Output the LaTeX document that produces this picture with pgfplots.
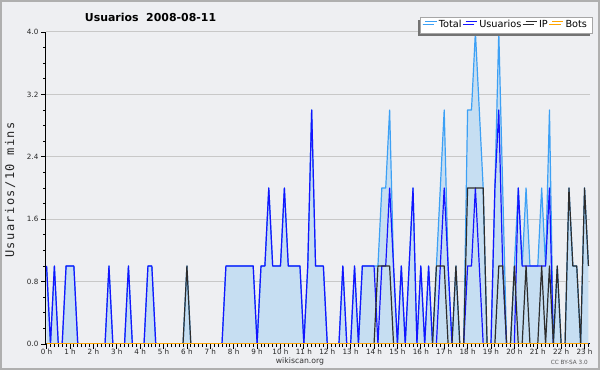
\documentclass[border=0pt]{standalone}
\usepackage{pgfplots}
\pgfplotsset{compat=1.18}
\usepackage{pgfplotstable}
\usepackage{fontspec}
\setmainfont{DejaVu Sans}
\newfontfamily\monolab[LetterSpace=12]{DejaVu Sans Mono}
\usetikzlibrary{shadows}

\definecolor{bg}{RGB}{238,239,242}
\definecolor{fillb}{RGB}{198,222,242}
\definecolor{totc}{RGB}{60,160,245}
\definecolor{usc}{RGB}{20,20,255}
\definecolor{ipc}{RGB}{45,45,45}
\definecolor{botc}{RGB}{255,165,0}
\definecolor{gridc}{RGB}{200,200,200}
\definecolor{framec}{RGB}{175,175,175}

\pgfplotstableread{
i U IP T B
0 1 0 1 0
1 0 0 0 0
2 1 0 1 0
3 0 0 0 0
4 0 0 0 0
5 1 0 1 0
6 1 0 1 0
7 1 0 1 0
8 0 0 0 0
9 0 0 0 0
10 0 0 0 0
11 0 0 0 0
12 0 0 0 0
13 0 0 0 0
14 0 0 0 0
15 0 0 0 0
16 1 0 1 0
17 0 0 0 0
18 0 0 0 0
19 0 0 0 0
20 0 0 0 0
21 1 0 1 0
22 0 0 0 0
23 0 0 0 0
24 0 0 0 0
25 0 0 0 0
26 1 0 1 0
27 1 0 1 0
28 0 0 0 0
29 0 0 0 0
30 0 0 0 0
31 0 0 0 0
32 0 0 0 0
33 0 0 0 0
34 0 0 0 0
35 0 0 0 0
36 0 1 1 0
37 0 0 0 0
38 0 0 0 0
39 0 0 0 0
40 0 0 0 0
41 0 0 0 0
42 0 0 0 0
43 0 0 0 0
44 0 0 0 0
45 0 0 0 0
46 1 0 1 0
47 1 0 1 0
48 1 0 1 0
49 1 0 1 0
50 1 0 1 0
51 1 0 1 0
52 1 0 1 0
53 1 0 1 0
54 0 0 0 0
55 1 0 1 0
56 1 0 1 0
57 2 0 2 0
58 1 0 1 0
59 1 0 1 0
60 1 0 1 0
61 2 0 2 0
62 1 0 1 0
63 1 0 1 0
64 1 0 1 0
65 1 0 1 0
66 0 0 0 0
67 1 0 1 0
68 3 0 3 0
69 1 0 1 0
70 1 0 1 0
71 1 0 1 0
72 0 0 0 0
73 0 0 0 0
74 0 0 0 0
75 0 0 0 0
76 1 0 1 0
77 0 0 0 0
78 0 0 0 0
79 1 0 1 0
80 0 0 0 0
81 1 0 1 0
82 1 0 1 0
83 1 0 1 0
84 1 0 1 0
85 0 1 1 0
86 1 1 2 0
87 1 1 2 0
88 2 1 3 0
89 1 0 1 0
90 0 0 0 0
91 1 0 1 0
92 0 0 0 0
93 1 0 1 0
94 2 0 2 0
95 0 0 0 0
96 1 0 1 0
97 0 0 0 0
98 1 0 1 0
99 0 0 0 0
100 0 1 1 0
101 1 1 2 0
102 2 1 3 0
103 1 0 1 0
104 0 0 0 0
105 0 1 1 0
106 0 0 0 0
107 0 0 0 0
108 1 2 3 0
109 1 2 3 0
110 2 2 4 0
111 1 2 3 0
112 0 2 2 0
113 0 0 0 0
114 0 0 0 0
115 2 0 2 0
116 3 1 4 0
117 1 1 2 0
118 0 0 0 0
119 0 0 0 0
120 0 1 1 0
121 2 0 2 0
122 1 0 1 0
123 1 1 2 0
124 1 0 1 0
125 1 0 1 0
126 1 0 1 0
127 1 1 2 0
128 1 0 1 0
129 2 1 3 0
130 0 0 0 0
131 0 1 1 0
132 0 0 0 0
133 0 0 0 0
134 0 2 2 0
135 0 1 1 0
136 0 1 1 0
137 0 0 0 0
138 0 2 2 0
139 0 1 1 0
}\data

\begin{document}
\begin{tikzpicture}
\fill[bg] (0,0) rectangle (450pt,277.5pt);
\draw[framec, line width=1.2pt] (0.6pt,0.6pt) rectangle (449.4pt,276.9pt);
\begin{axis}[
  at={(34.5pt,19.5pt)}, anchor=south west,
  scale only axis, width=408pt, height=234pt,
  xmin=-0.15, xmax=139.4, ymin=0, ymax=4,
  axis lines*=left,
  axis line style={black, line width=0.75pt},
  /pgf/number format/assume math mode=true,
  xtick={0,6,...,138},
  xticklabels={0 h,1 h,2 h,3 h,4 h,5 h,6 h,7 h,8 h,9 h,10 h,11 h,12 h,13 h,14 h,15 h,16 h,17 h,18 h,19 h,20 h,21 h,22 h,23 h},
  minor xtick={0,1,...,139},
  ytick={0,0.8,1.6,2.4,3.2,4},
  yticklabels={0.0,0.8,1.6,2.4,3.2,4.0},
  minor ytick={0.2,0.4,0.6,1.0,1.2,1.4,1.8,2.0,2.2,2.6,2.8,3.0,3.4,3.6,3.8},
  tick align=outside,
  major tick length=3.4pt, minor tick length=1.9pt,
  tick style={black, line width=0.6pt},
  ticklabel style={font=\fontsize{5.4}{6}\selectfont, text=black!85},
  xticklabel style={yshift=2.8pt},
  yticklabel style={xshift=1.2pt},
  ymajorgrids,
  grid style={gridc, line width=0.75pt},
  legend columns=4,
  legend style={at={(1.0055,1.047)}, anchor=north east, draw=black!35, fill=white,
    line width=0.5pt, font=\fontsize{7.3}{8.5}\selectfont,
    inner xsep=3pt, inner ysep=1pt,
    nodes={inner sep=1.2pt},
    general shadow={fill=black!55, shadow xshift=-2pt, shadow yshift=-2pt},
    /tikz/every even column/.append style={column sep=1.5pt}},
  legend image code/.code={\draw[#1] (0pt,2.6pt) -- (8.5pt,2.6pt);},
  every axis plot/.append style={line join=round, line width=0.9pt},
]
\addplot[fill=fillb, draw=none, forget plot] table[x=i,y=T]{\data} \closedcycle;
\addplot[totc] table[x=i,y=T]{\data};
\addplot[usc] table[x=i,y=U]{\data};
\addplot[ipc] table[x=i,y=IP]{\data};
\addplot[botc] table[x=i,y=B]{\data};
\legend{Total,Usuarios,IP,Bots}
\end{axis}
\node[anchor=base, font=\bfseries\fontsize{8.2}{10}\selectfont] at (112.9pt,261.2pt) {Usuarios\ \ 2008-08-11};
\node[rotate=90, font=\monolab\fontsize{9}{10}\selectfont, text=black!85] at (7.5pt,135pt) {Usuarios/10 mins};
\node[anchor=base, font=\fontsize{5.8}{7}\selectfont, text=black!80] at (225pt,4.6pt) {wikiscan.org};
\node[anchor=base, font=\fontsize{4.3}{5}\selectfont, text=black!65] at (427pt,4.1pt) {CC BY-SA 3.0};
\end{tikzpicture}
\end{document}
